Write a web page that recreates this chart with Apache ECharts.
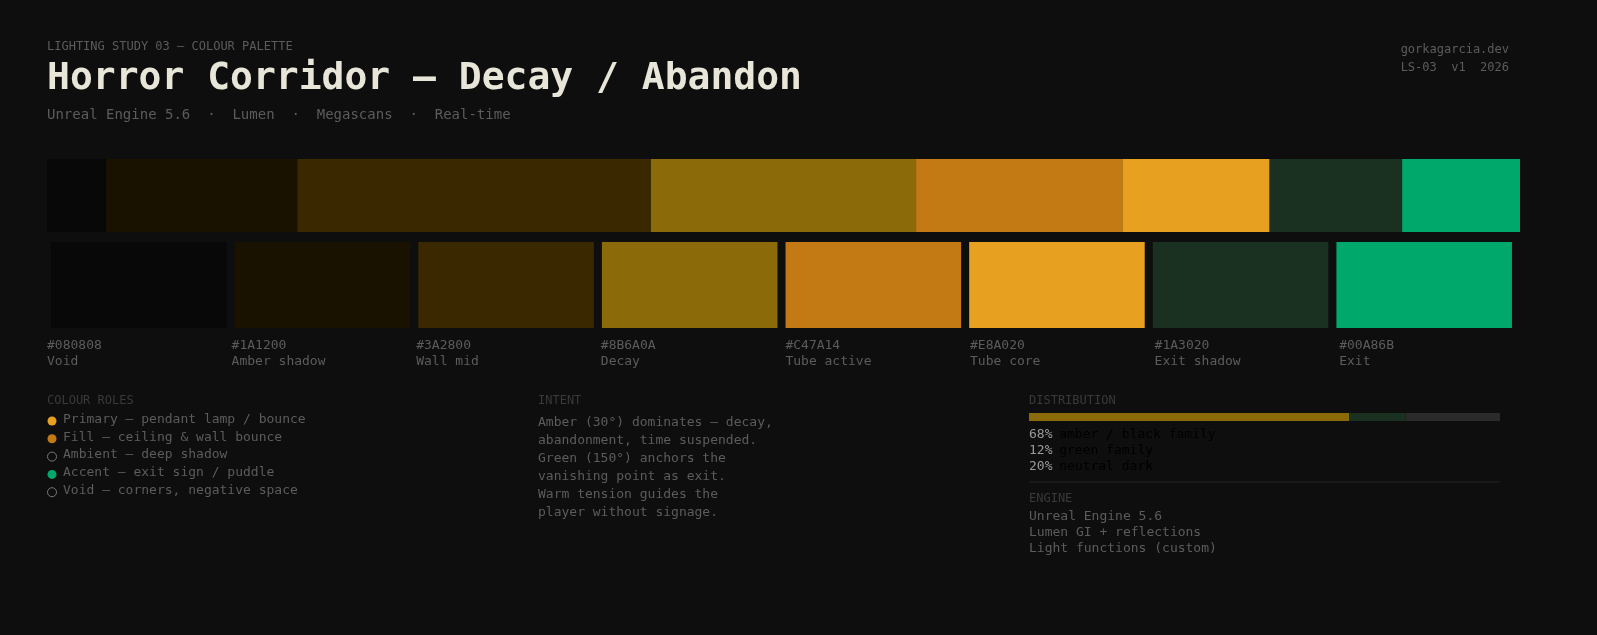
<!DOCTYPE html>
<html><head><meta charset="utf-8">
<script src="https://cdn.jsdelivr.net/npm/echarts@6/dist/echarts.min.js"></script>
<style>html,body{margin:0;background:#0e0e0e}#c{width:1597px;height:635px}</style>
</head><body><div id="c"></div>
<script>
// palette
var hexes = ['#080808', '#1A1200', '#3A2800', '#8B6A0A', '#C47A14', '#E8A020', '#1A3020', '#00A86B'];
var names = ['Void', 'Amber shadow', 'Wall mid', 'Decay', 'Tube active', 'Tube core', 'Exit shadow', 'Exit'];
// share of the strip (percent)
var stripShare = [4, 13, 24, 18, 14, 10, 9, 8];
var distValues = [68, 12, 20];
var distLabels = ['amber / black family', 'green family', 'neutral dark'];
var distColors = ['#8B6A0A', '#1A3020', '#2a2a2a'];
var roles = [
    ['#E8A020', 'Primary — pendant lamp / bounce'],
    ['#C47A14', 'Fill — ceiling & wall bounce'],
    [null, 'Ambient — deep shadow'],
    ['#00A86B', 'Accent — exit sign / puddle'],
    [null, 'Void — corners, negative space']
];
var intent = ['Amber (30°) dominates — decay,', 'abandonment, time suspended.', 'Green (150°) anchors the',
    'vanishing point as exit.', 'Warm tension guides the', 'player without signage.'];
var engine = ['Unreal Engine 5.6', 'Lumen GI + reflections', 'Light functions (custom)'];

var F = 'DejaVu Sans Mono';
var dim = '#5c5c5c', faint = '#3a3a3a';
var chart = echarts.init(document.getElementById('c'));

var series = [];
stripShare.forEach(function (v, i) {
    series.push({type: 'bar', stack: 's', xAxisIndex: 0, yAxisIndex: 0, data: [v], barWidth: '100%',
        itemStyle: {color: hexes[i]}, silent: true});
});
distValues.forEach(function (v, i) {
    series.push({type: 'bar', stack: 'd', xAxisIndex: 1, yAxisIndex: 1, data: [v], barWidth: '100%',
        itemStyle: {color: distColors[i]}, silent: true});
});
series.push({type: 'bar', xAxisIndex: 2, yAxisIndex: 2, barCategoryGap: '4.4%', silent: true,
    data: hexes.map(function (h) { return {value: 1, itemStyle: {color: h}}; })});

var g = [
    {type: 'text', left: 47, top: 41, style: {text: 'LIGHTING STUDY 03 — COLOUR PALETTE', font: '12px ' + F, fill: dim}},
    {type: 'text', left: 47, top: 60, style: {text: 'Horror Corridor — Decay / Abandon', font: 'bold 38px ' + F, fill: '#e8e6d8'}},
    {type: 'text', left: 47, top: 108, style: {text: 'Unreal Engine 5.6  ·  Lumen  ·  Megascans  ·  Real-time', font: '14px ' + F, fill: dim}},
    {type: 'text', right: 88, top: 41, style: {text: 'gorkagarcia.dev\nLS-03  v1  2026', font: '12px ' + F, fill: dim, lineHeight: 18, align: 'left'}},
    {type: 'text', left: 47, top: 395, style: {text: 'COLOUR ROLES', font: '12px ' + F, fill: faint}},
    {type: 'text', left: 538, top: 395, style: {text: 'INTENT', font: '12px ' + F, fill: faint}},
    {type: 'text', left: 538, top: 414, style: {text: intent.join('\n'), font: '13px ' + F, fill: dim, lineHeight: 18}},
    {type: 'text', left: 1029, top: 395, style: {text: 'DISTRIBUTION', font: '12px ' + F, fill: faint}},
    {type: 'line', shape: {x1: 1029, y1: 482, x2: 1500, y2: 482}, style: {stroke: '#222', lineWidth: 1}},
    {type: 'text', left: 1029, top: 493, style: {text: 'ENGINE', font: '12px ' + F, fill: faint}},
    {type: 'text', left: 1029, top: 509, style: {text: engine.join('\n'), font: '13px ' + F, fill: dim, lineHeight: 16}}
];
hexes.forEach(function (h, i) {
    g.push({type: 'text', left: 47 + i * 184.6, top: 338, style: {text: h + '\n' + names[i], font: '13px ' + F, fill: dim, lineHeight: 16}});
});
roles.forEach(function (r, i) {
    var y = 421 + i * 17.8;
    g.push({type: 'circle', shape: {cx: 52, cy: y, r: 4.5},
        style: r[0] ? {fill: r[0]} : {fill: 'none', stroke: '#777', lineWidth: 1}});
    g.push({type: 'text', left: 63, top: y - 8, style: {text: r[1], font: '13px ' + F, fill: dim}});
});
distValues.forEach(function (v, i) {
    g.push({type: 'text', left: 1029, top: 428 + i * 16, style: {
        text: '{a|' + v + '%}  {b|' + distLabels[i] + '}',
        rich: {a: {font: '13px ' + F, fill: '#9a9a9a', color: '#9a9a9a'}, b: {font: '13px ' + F, color: dim}}}});
});

var hid = {show: false};
chart.setOption({
    backgroundColor: '#0e0e0e',
    animation: false,
    grid: [
        {left: 47, top: 159, width: 1473, height: 73},
        {left: 1029, top: 413, width: 471, height: 8},
        {left: 47, top: 242, width: 1469, height: 86}
    ],
    xAxis: [
        {type: 'value', gridIndex: 0, min: 0, max: 100, show: false},
        {type: 'value', gridIndex: 1, min: 0, max: 100, show: false},
        {type: 'category', gridIndex: 2, data: hexes, show: false}
    ],
    yAxis: [
        {type: 'category', gridIndex: 0, data: ['s'], show: false},
        {type: 'category', gridIndex: 1, data: ['d'], show: false},
        {type: 'value', gridIndex: 2, min: 0, max: 1, show: false}
    ],
    series: series,
    graphic: g
});
</script></body></html>
